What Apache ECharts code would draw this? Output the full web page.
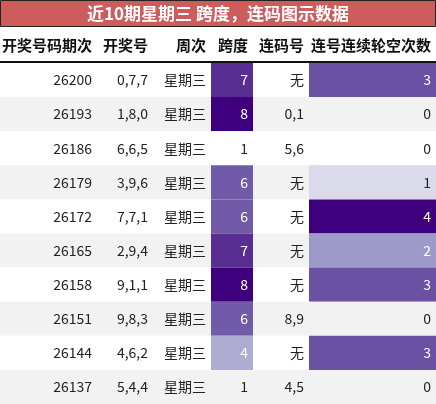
<!DOCTYPE html>
<html><head><meta charset="utf-8">
<script src="https://cdn.jsdelivr.net/npm/echarts@6/dist/echarts.min.js"></script>
<style>html,body{margin:0;padding:0;background:#fff}#c{width:436px;height:404px}</style>
</head><body><div id="c"></div>
<script>
const title = '近10期星期三 跨度，连码图示数据';
const headers = ['开奖号码期次','开奖号','周次','跨度','连码号','连号连续轮空次数'];
const periods = ['26200','26193','26186','26179','26172','26165','26158','26151','26144','26137'];
const numbers = ['0,7,7','1,8,0','6,6,5','3,9,6','7,7,1','2,9,4','9,1,1','9,8,3','4,6,2','5,4,4'];
const weekdays = ['星期三','星期三','星期三','星期三','星期三','星期三','星期三','星期三','星期三','星期三'];
const spans = [7,8,1,6,6,7,8,6,4,1];
const lianma = ['无','0,1','5,6','无','无','无','无','8,9','无','4,5'];
const gaps = [3,0,0,1,4,2,3,0,3,0];

const colEdges = [0,97,153,211,253,309,436];
const stops = ['#ffffff','#dadaeb','#9e9ac8','#6a51a3','#3f007d'];
function purple(t){
  t = Math.max(0, Math.min(1, t));
  const p = t*(stops.length-1), i = Math.min(Math.floor(p), stops.length-2);
  return echarts.color.lerp(p - i, [stops[i], stops[i+1]]);
}
const sMin = Math.min(...spans), sMax = Math.max(...spans);
const gMin = Math.min(...gaps), gMax = Math.max(...gaps);

const data = [];
for (let r = 0; r < periods.length; r++) {
  const cells = [periods[r], numbers[r], weekdays[r], String(spans[r]), lianma[r], String(gaps[r])];
  for (let c = 0; c < 6; c++) {
    let t = null;
    if (c === 3) t = (spans[r]-sMin)/(sMax-sMin);
    if (c === 5) t = (gaps[r]-gMin)/(gMax-gMin);
    data.push([colEdges[c], r, colEdges[c+1], cells[c], t]);
  }
}

function renderItem(params, api) {
  const x0 = api.value(0), r = api.value(1), x1 = api.value(2);
  const t = data[params.dataIndex][4];
  const p0 = api.coord([x0, r]), p1 = api.coord([x1, r + 1]);
  let fill = (r % 2 === 1) ? '#f2f2f2' : '#ffffff';
  let txt = '#222';
  if (t !== null && t > 0) { fill = purple(t); if (t > 0.4) txt = '#ffffff'; }
  const text = data[params.dataIndex][3];
  return {
    type: 'group',
    children: [
      {type:'rect', shape:{x:p0[0], y:p0[1], width:p1[0]-p0[0], height:p1[1]-p0[1]}, style:{fill:fill}},
      {type:'text', style:{text:text, x:p1[0]-5, y:(p0[1]+p1[1])/2, align:'right', verticalAlign:'middle',
        fill:txt, font:'14px "Noto Sans CJK SC", "Liberation Sans", sans-serif'}}
    ]
  };
}

const headerGraphics = headers.map((h, c) => ({
  type:'text', left:null, style:{text:h, x:colEdges[c+1]-5, y:45, align:'right', verticalAlign:'middle',
    fill:'#111', font:'bold 15px "Noto Sans CJK SC", sans-serif'}
}));

const chart = echarts.init(document.getElementById('c'));
chart.setOption({
  animation:false,
  grid:{left:0, right:0, top:63, bottom:0},
  xAxis:{type:'value', min:0, max:436, show:false},
  yAxis:{type:'value', min:0, max:10, inverse:true, show:false},
  series:[{type:'custom', renderItem:renderItem, data:data.map(d=>[d[0],d[1],d[2]])}],
  graphic:[
    {type:'rect', shape:{x:0.5, y:0.5, width:435, height:26}, style:{fill:'#cd5c5c', stroke:'#222', lineWidth:1}},
    {type:'text', style:{text:title, x:218, y:14, align:'center', verticalAlign:'middle', fill:'#fff',
      font:'bold 17px "Noto Sans CJK SC", sans-serif'}},
    ...headerGraphics,
    {type:'line', shape:{x1:0, y1:62, x2:436, y2:62}, style:{stroke:'#111', lineWidth:2}}
  ]
});
</script></body></html>
